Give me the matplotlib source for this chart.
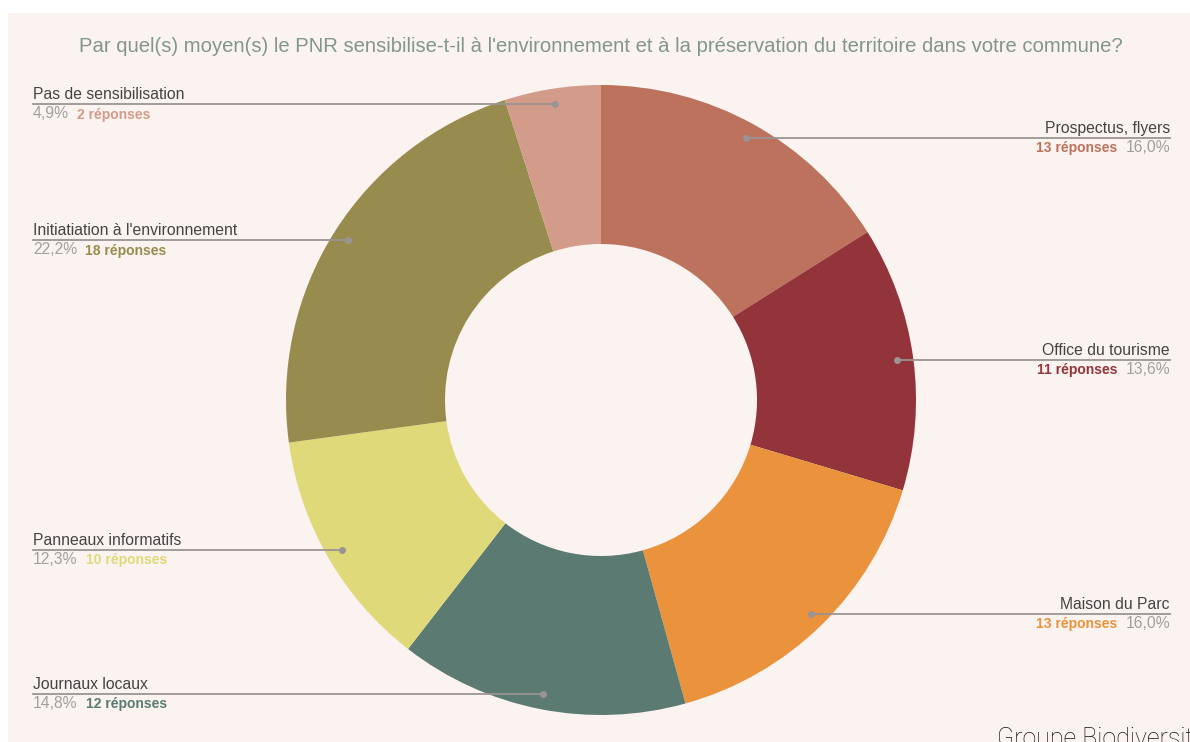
import numpy as np
import matplotlib.pyplot as plt
from matplotlib.patches import Rectangle

# Données (ordre horaire depuis midi)
categories = ["Prospectus, flyers", "Office du tourisme", "Maison du Parc",
              "Journaux locaux", "Panneaux informatifs",
              "Initiatiation à l'environnement", "Pas de sensibilisation"]
valeurs = [13, 11, 13, 12, 10, 18, 4]
reponses = [13, 11, 13, 12, 10, 18, 2]
couleurs = ["#bc725c", "#93343a", "#ea923c", "#5b7a72", "#dfd97a",
            "#978c4e", "#d39c8a"]

titre = ("Par quel(s) moyen(s) le PNR sensibilise-t-il à l'environnement "
         "et à la préservation du territoire dans votre commune?")

plt.rcParams['font.family'] = ['Liberation Sans', 'DejaVu Sans']

W, H = 1190, 742
fig = plt.figure(figsize=(W / 100, H / 100), dpi=100, facecolor="white")
ax = fig.add_axes([0, 0, 1, 1])

# fond rose
ax.add_patch(Rectangle((8, 0), W - 8, H - 13, facecolor="#fbf3f0",
                       edgecolor="none", zorder=0))

cx, cy, R, r_in = 601, 342, 315, 156
ax.pie(valeurs, colors=couleurs, startangle=90, counterclock=False,
       radius=R, center=(cx, cy),
       wedgeprops=dict(width=R - r_in, linewidth=0))
ax.set_xlim(0, W)
ax.set_ylim(0, H)
ax.axis('off')

ax.text(cx, H - 47, titre, ha='center', va='center', fontsize=14.6,
        color="#82968e")

total = sum(valeurs)
cum = np.cumsum([0] + valeurs)
x_gauche, x_droite = 33, 1170
for i, cat in enumerate(categories):
    mid = (cum[i] + valeurs[i] / 2) / total * 360
    ang = np.deg2rad(90 - mid)
    dx = cx + 0.95 * R * np.cos(ang)
    dy = cy + 0.95 * R * np.sin(ang)
    pct = f"{valeurs[i] / total * 100:.1f}%".replace(".", ",")
    rep = f"{reponses[i]} réponses"
    droite = mid < 180
    xe = x_droite if droite else x_gauche
    ax.plot([dx, xe], [dy, dy], color="#9a9494", lw=1.3, zorder=3)
    ax.plot(dx, dy, 'o', color="#9a9494", ms=4, zorder=3)
    ha = 'right' if droite else 'left'
    ax.text(xe, dy + 2, cat, ha=ha, va='bottom', fontsize=11.3,
            color="#444444")
    t = ax.text(xe, dy - 2, pct, ha=ha, va='top', fontsize=11.3,
                color="#a0a0a0")
    if droite:
        ax.annotate(rep, xy=(0, 1), xycoords=t, xytext=(-6, -1),
                    textcoords='offset points', ha='right', va='top',
                    fontsize=10, fontweight='bold', color=couleurs[i])
    else:
        ax.annotate(rep, xy=(1, 1), xycoords=t, xytext=(6, -1),
                    textcoords='offset points', ha='left', va='top',
                    fontsize=10, fontweight='bold', color=couleurs[i])

ax.text(997, 15, "Groupe Biodiversité", ha='left', va='top', fontsize=18,
        family='Roboto', fontweight='light', color="#111111")

fig.savefig("out.png", dpi=100, facecolor=fig.get_facecolor())
